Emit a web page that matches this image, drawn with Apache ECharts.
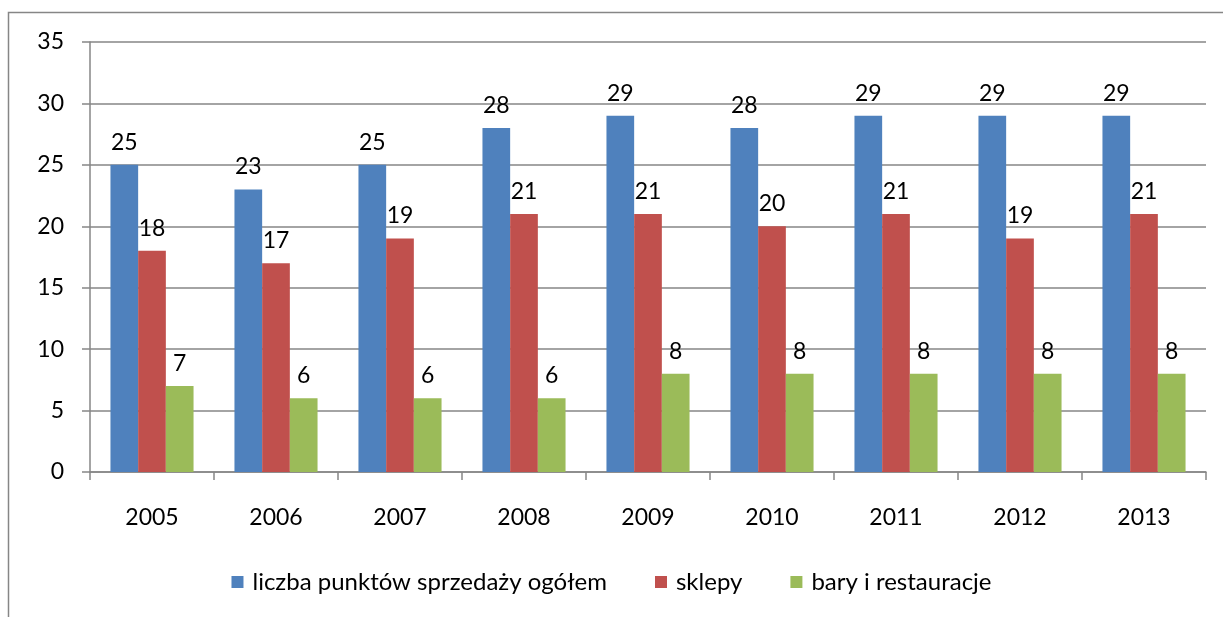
<!DOCTYPE html>
<html>
<head>
<meta charset="utf-8">
<script src="https://cdn.jsdelivr.net/npm/echarts@6/dist/echarts.min.js"></script>
<style>
  html, body { margin: 0; padding: 0; background: #fff; }
  #chart { width: 1223px; height: 617px; }
</style>
</head>
<body>
<div id="chart"></div>
<script>
// dane z wykresu
const years = ["2005", "2006", "2007", "2008", "2009", "2010", "2011", "2012", "2013"];
const ogolem = [25, 23, 25, 28, 29, 28, 29, 29, 29];
const sklepy = [18, 17, 19, 21, 21, 20, 21, 19, 21];
const bary = [7, 6, 6, 6, 8, 8, 8, 8, 8];
const seriesNames = ["liczba punktów sprzedaży ogółem", "sklepy", "bary i restauracje"];
const colors = ["#4f81bd", "#c0504d", "#9bbb59"];

const font = "Lato, 'Open Sans', sans-serif";
const chart = echarts.init(document.getElementById("chart"));

const makeSeries = (name, data, color) => ({
  name: name,
  type: "bar",
  data: data,
  barCategoryGap: "33%",
  barGap: "0%",
  itemStyle: { color: color },
  label: {
    show: true,
    position: "top",
    distance: 11,
    color: "#000",
    fontSize: 23,
    fontFamily: font,
  },
});

chart.setOption({
  animation: false,
  textStyle: { fontFamily: font },
  graphic: [
    {
      type: "rect",
      shape: { x: 8.5, y: 12.5, width: 1240, height: 640 },
      style: { fill: "none", stroke: "#868686", lineWidth: 1.5 },
      silent: true,
    },
  ],
  grid: { left: 90, right: 17, top: 42, bottom: 145 },
  legend: {
    bottom: 18,
    left: "center",
    itemWidth: 12,
    itemHeight: 12,
    itemGap: 48,
    icon: "rect",
    textStyle: { fontSize: 24, color: "#000", fontFamily: font, padding: [0, 0, 0, 4] },
    data: seriesNames,
  },
  xAxis: {
    type: "category",
    data: years,
    axisLine: { lineStyle: { color: "#868686", width: 1.5 } },
    axisTick: { show: true, length: 8, lineStyle: { color: "#868686", width: 1.5 } },
    axisLabel: { color: "#000", fontSize: 23, margin: 34, fontFamily: font },
  },
  yAxis: {
    type: "value",
    min: 0,
    max: 35,
    interval: 5,
    axisLine: { show: true, lineStyle: { color: "#868686", width: 1.5 } },
    axisTick: { show: true, length: 8, lineStyle: { color: "#868686", width: 1.5 } },
    splitLine: { lineStyle: { color: "#868686", width: 1.5 } },
    axisLabel: { color: "#000", fontSize: 23, margin: 26, fontFamily: font },
  },
  series: [
    makeSeries(seriesNames[0], ogolem, colors[0]),
    makeSeries(seriesNames[1], sklepy, colors[1]),
    makeSeries(seriesNames[2], bary, colors[2]),
  ],
});
</script>
</body>
</html>
